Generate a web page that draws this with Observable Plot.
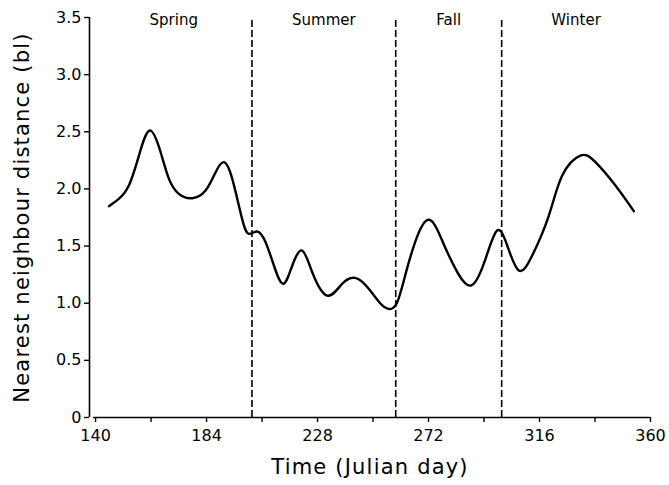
<!DOCTYPE html>
<html>
<head>
<meta charset="utf-8">
<script src="https://cdn.jsdelivr.net/npm/d3@7"></script>
<script src="https://cdn.jsdelivr.net/npm/@observablehq/plot@0.6"></script>
<style>
  html, body { margin: 0; padding: 0; background: #fff; }
  svg { font-family: "DejaVu Sans", sans-serif; }
</style>
</head>
<body>
<div id="chart"></div>
<script>
// Smoothed nearest neighbour distance (body lengths) by Julian day
const days = [145.3, 149.2, 153.2, 157.2, 161.5, 165.8, 169.1, 173.0, 178.3, 183.6, 187.6, 190.9, 194.2,
  198.1, 200.8, 204.1, 207.4, 210.7, 214.4, 218.0, 221.9, 225.9, 231.8, 237.8, 243.3, 248.3, 253.0, 256.0,
  259.6, 264.2, 271.2, 277.4, 282.7, 288.9, 294.6, 299.2, 303.2, 307.8, 313.1, 319.7, 325.0, 332.2, 338.2,
  346.1, 353.4];
const distance = [1.849, 1.913, 2.030, 2.292, 2.511, 2.321, 2.088, 1.957, 1.919, 1.986, 2.146, 2.234, 2.088,
  1.738, 1.607, 1.627, 1.534, 1.330, 1.170, 1.330, 1.461, 1.271, 1.067, 1.170, 1.219, 1.126, 0.995, 0.951,
  1.009, 1.359, 1.724, 1.549, 1.301, 1.155, 1.388, 1.636, 1.505, 1.286, 1.417, 1.767, 2.117, 2.292, 2.234,
  2.030, 1.805];

const seasons = ["Spring", "Summer", "Fall", "Winter"];
const seasonStart = [140, 202, 259, 301];
const seasonEnd = [202, 259, 301, 360];
const boundaries = [202, 259, 301];

const xTicks = [140, 184, 228, 272, 316, 360];
const xMinorTicks = [162, 206, 250, 294, 338];
const yTicks = [0, 0.5, 1.0, 1.5, 2.0, 2.5, 3.0, 3.5];
const yTickLabels = ["0", "0.5", "1.0", "1.5", "2.0", "2.5", "3.0", "3.5"];

const xTitle = "Time (Julian day)";
const yTitle = "Nearest neighbour distance (bl)";

const curve = days.map((d, i) => ({day: d, value: distance[i]}));
const seasonLabels = seasons.map((s, i) => ({name: s, day: (seasonStart[i] + seasonEnd[i]) / 2}));

const chart = Plot.plot({
  width: 669,
  height: 485,
  marginLeft: 89,
  marginRight: 19,
  marginTop: 17,
  marginBottom: 68,
  x: {domain: [137.6, 360]},
  y: {domain: [0, 3.5]},
  marks: [
    // axis lines
    Plot.ruleX([137.6], {y1: 0, y2: 3.5, stroke: "#000", strokeWidth: 1.6}),
    Plot.ruleY([0], {x1: 139.2, x2: 360, stroke: "#000", strokeWidth: 1.6}),
    Plot.axisY({
      ticks: yTicks,
      tickFormat: d => yTickLabels[yTicks.indexOf(d)],
      tickSize: 5,
      tickPadding: 3,
      fontSize: 16,
      strokeWidth: 1.4,
      color: "#000",
      label: null
    }),
    Plot.axisX({
      ticks: xTicks,
      tickSize: 5,
      tickPadding: 7,
      fontSize: 16,
      strokeWidth: 1.4,
      color: "#000",
      label: null
    }),
    Plot.axisX({
      ticks: xMinorTicks,
      tickSize: 5,
      tickFormat: () => "",
      strokeWidth: 1.4,
      label: null
    }),
    // season boundaries
    Plot.ruleX(boundaries, {y1: 0, y2: 3.5, stroke: "#000", strokeWidth: 1.6, strokeDasharray: "7,3"}),
    // season labels
    Plot.text(seasonLabels, {x: "day", y: 3.5, text: "name", dy: 3, fontSize: 15, fill: "#000", lineAnchor: "middle"}),
    // smoothed curve
    Plot.line(curve, {x: "day", y: "value", curve: "natural", stroke: "#000", strokeWidth: 2.4}),
    // axis titles
    Plot.text([xTitle], {frameAnchor: "bottom", dy: 50, fontSize: 21, fill: "#000", textAnchor: "middle", lineAnchor: "middle"}),
    Plot.text([yTitle], {frameAnchor: "left", dx: -67, rotate: -90, fontSize: 21, fill: "#000", textAnchor: "middle", lineAnchor: "middle"})
  ]
});
d3.select(chart).selectAll("text")
  .filter(function() { return this.textContent === xTitle || this.textContent === yTitle; })
  .attr("letter-spacing", "1.2px");
document.getElementById("chart").appendChild(chart);
</script>
</body>
</html>
